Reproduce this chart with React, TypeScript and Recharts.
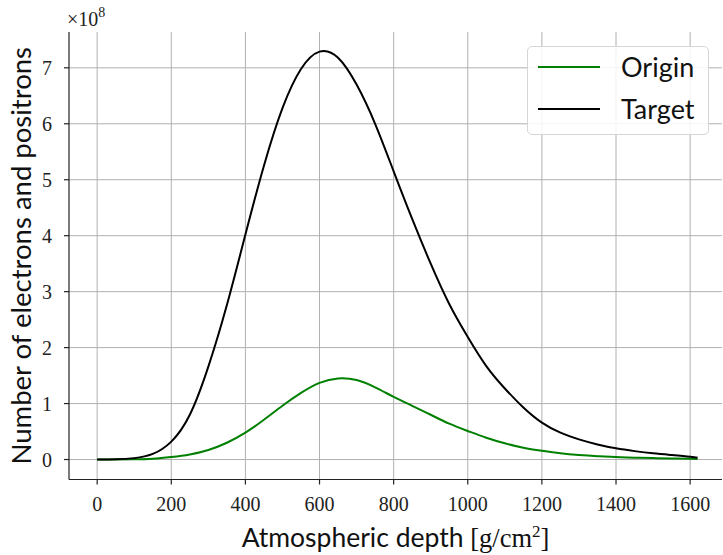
import React from 'react';
import {
  LineChart,
  Line,
  XAxis,
  YAxis,
  CartesianGrid
} from 'recharts';

// atmospheric depth in g/cm^2
const depth = [
  0, 50, 100, 150, 200, 250, 300, 350, 400, 450, 500, 550, 600, 650, 700, 750, 800,
  850, 900, 950, 1000, 1050, 1100, 1150, 1200, 1250, 1300, 1350, 1400, 1450, 1500,
  1550, 1600, 1620
];
// particle counts, in units of 1e8
const origin = [
  0, 0.001, 0.004, 0.015, 0.045, 0.09, 0.17, 0.3, 0.48, 0.71, 0.96, 1.19, 1.37, 1.45,
  1.42, 1.29, 1.12, 0.96, 0.8, 0.64, 0.51, 0.39, 0.29, 0.21, 0.155, 0.11, 0.08, 0.06,
  0.045, 0.033, 0.025, 0.019, 0.014, 0.01
];
const target = [
  0, 0.003, 0.025, 0.1, 0.32, 0.8, 1.66, 2.76, 4.02, 5.25, 6.28, 6.98, 7.29, 7.18, 6.7,
  6.0, 5.15, 4.3, 3.5, 2.78, 2.19, 1.67, 1.27, 0.93, 0.66, 0.48, 0.36, 0.27, 0.2,
  0.15, 0.11, 0.08, 0.05, 0.03
];
const xTicks = [0, 200, 400, 600, 800, 1000, 1200, 1400, 1600];
const yTicks = [0, 1, 2, 3, 4, 5, 6, 7];
const series = [
  { key: 'origin', name: 'Origin', color: '#008000' },
  { key: 'target', name: 'Target', color: '#000000' }
];

const data = depth.map((d, i) => ({ depth: d, origin: origin[i], target: target[i] }));

const SANS = 'Lato, "Open Sans", sans-serif';
const SERIF = '"Liberation Serif", serif';
const tickStyle = { fill: '#222', fontSize: 20, fontFamily: SERIF };
const xDomain = [-76, 1686];
const yDomain = [-0.357, 7.64];

const XLabel = ({ viewBox }: any) => {
  const cx = viewBox.x + viewBox.width / 2;
  return (
    <text x={cx} y={547} textAnchor="middle" fill="#111" fontSize={26.5}>
      <tspan fontFamily={SANS}>Atmospheric depth </tspan>
      <tspan fontFamily={SERIF}>[g/cm</tspan>
      <tspan fontFamily={SERIF} fontSize={17} dy={-10}>2</tspan>
      <tspan fontFamily={SERIF} dy={10}>]</tspan>
    </text>
  );
};

const YLabel = ({ viewBox }: any) => {
  const cy = viewBox.y + viewBox.height / 2;
  return (
    <g>
      <text x={31} y={cy} transform={`rotate(-90, 31, ${cy})`} textAnchor="middle"
        fill="#111" fontSize={27.5} fontFamily={SANS}>
        Number of electrons and positrons
      </text>
      <text x={67} y={26} fill="#222" fontSize={20} fontFamily={SERIF}>
        ×10<tspan fontSize={14} dy={-9}>8</tspan>
      </text>
    </g>
  );
};

const LegendBox = () => (
  <div style={{
    position: 'absolute', left: 527, top: 46, width: 180, height: 87,
    background: 'rgba(255,255,255,0.85)', border: '1px solid #d6d6d6', borderRadius: 5
  }}>
    {series.map((s, i) => (
      <div key={s.key}>
        <div style={{
          position: 'absolute', left: 10, top: 20 + i * 42 - 1, width: 62, height: 2,
          background: s.color
        }} />
        <div style={{
          position: 'absolute', left: 93, top: 20 + i * 42 - 15, fontFamily: SANS,
          fontSize: 27, lineHeight: '30px', color: '#111'
        }}>{s.name}</div>
      </div>
    ))}
  </div>
);

export default function App() {
  return (
    <div style={{ position: 'absolute', left: 0, top: 0, width: 723, height: 555, background: '#fff' }}>
      <LineChart width={723} height={555} data={data}
        margin={{ top: 32, right: 1, left: 0, bottom: 0 }}>
        <CartesianGrid stroke="#b0b0b0" strokeWidth={1} horizontalValues={yTicks} verticalValues={xTicks} />
        <XAxis dataKey="depth" type="number" domain={xDomain} ticks={xTicks}
          allowDataOverflow interval={0} height={75.5} tickSize={5} tickMargin={12.5}
          stroke="#222" strokeWidth={1.2} tick={tickStyle} label={<XLabel />} />
        <XAxis xAxisId="top" orientation="top" type="number" domain={xDomain}
          height={0} tick={false} tickLine={false} stroke="#222" strokeWidth={1.2} />
        <YAxis type="number" domain={yDomain} ticks={yTicks} allowDataOverflow
          interval={0} width={69} tickSize={5} tickMargin={12} stroke="#222"
          strokeWidth={1.2} tick={tickStyle} label={<YLabel />} />
        <YAxis yAxisId="right" orientation="right" domain={yDomain} width={0}
          tick={false} tickLine={false} stroke="#222" strokeWidth={1.2} />
        {series.map((s) => (
          <Line key={s.key} type="natural" dataKey={s.key} name={s.name} stroke={s.color}
            strokeWidth={2} dot={false} isAnimationActive={false} />
        ))}
      </LineChart>
      <LegendBox />
    </div>
  );
}
